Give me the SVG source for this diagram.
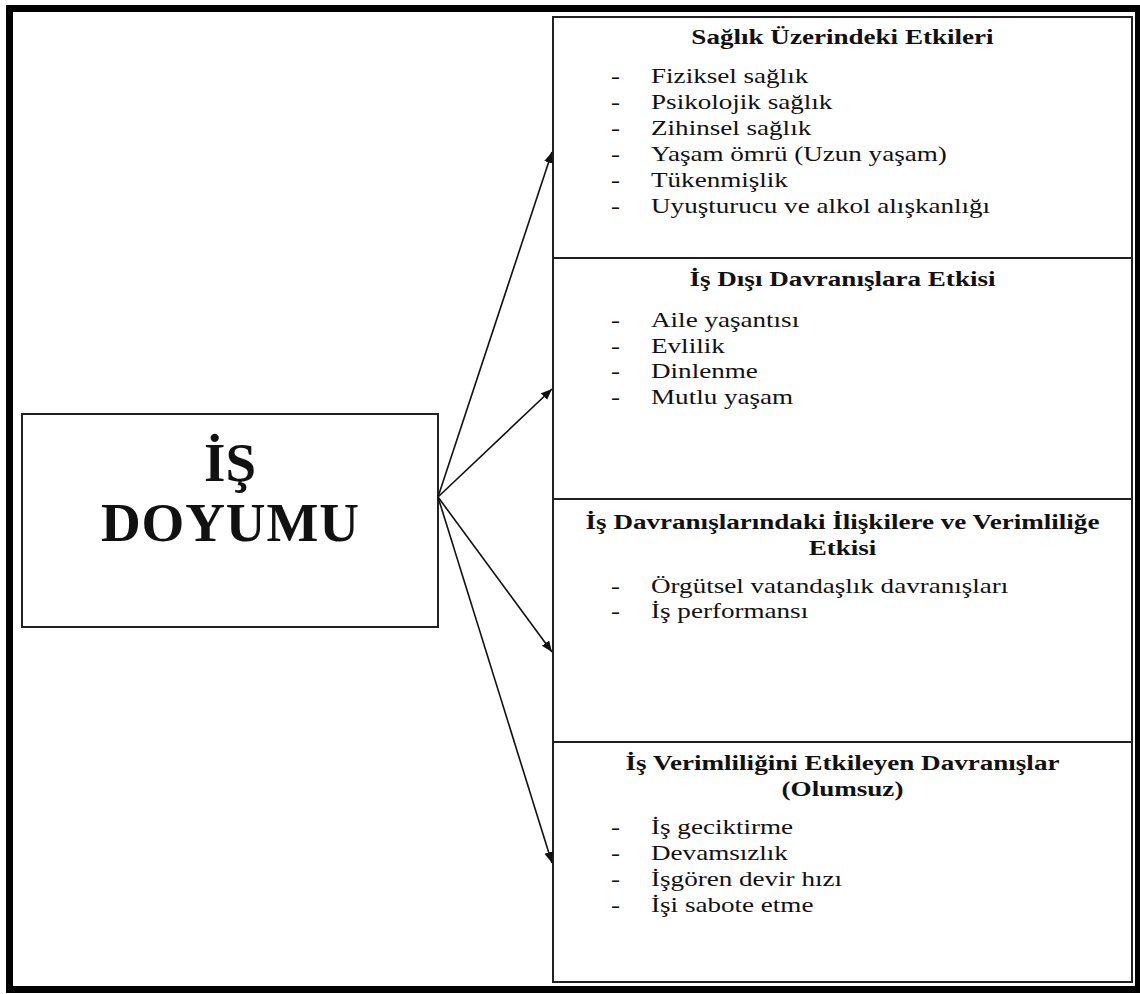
<svg xmlns="http://www.w3.org/2000/svg" width="1140" height="994" viewBox="0 0 1140 994">
<style>
.t{font-family:"Liberation Serif","Times New Roman",serif;fill:#111;}
.h{font-size:21px;font-weight:bold;text-anchor:middle;}
.i{font-size:21px;}
.big{font-size:55px;font-weight:bold;text-anchor:middle;}
.box{fill:#fff;stroke:#222;stroke-width:2;}
.con{stroke:#111;stroke-width:1.6;fill:none;}
</style>
<defs>
<marker id="ah" markerUnits="userSpaceOnUse" markerWidth="12" markerHeight="10" refX="11" refY="4.5" orient="auto">
<path d="M0,0 L11,4.5 L0,9 Z" fill="#111"/>
</marker>
</defs>
<rect x="0" y="0" width="1140" height="994" fill="#fff"/>
<rect x="9.5" y="8.5" width="1129" height="981" fill="none" stroke="#000" stroke-width="7"/>

<g id="node-is-doyumu">
<rect class="box" x="22" y="414" width="416" height="213" stroke-width="1.6"/>
<text class="t big" x="230" y="481">İŞ</text>
<text class="t big" x="230" y="541" textLength="258" lengthAdjust="spacing">DOYUMU</text>
</g>

<g id="node-saglik">
<rect class="box" x="553" y="17" width="579" height="241"/>
<g transform="scale(1.29,1)">
<text class="t h" x="653.1" y="44">Sağlık Üzerindeki Etkileri</text>
<text class="t i" x="473.6" y="83">-</text><text class="t i" x="504.7" y="83">Fiziksel sağlık</text>
<text class="t i" x="473.6" y="109">-</text><text class="t i" x="504.7" y="109">Psikolojik sağlık</text>
<text class="t i" x="473.6" y="135">-</text><text class="t i" x="504.7" y="135">Zihinsel sağlık</text>
<text class="t i" x="473.6" y="161">-</text><text class="t i" x="504.7" y="161">Yaşam ömrü (Uzun yaşam)</text>
<text class="t i" x="473.6" y="187">-</text><text class="t i" x="504.7" y="187">Tükenmişlik</text>
<text class="t i" x="473.6" y="213">-</text><text class="t i" x="504.7" y="213">Uyuşturucu ve alkol alışkanlığı</text>
</g>
</g>

<g id="node-is-disi">
<rect class="box" x="553" y="258" width="579" height="241"/>
<g transform="scale(1.29,1)">
<text class="t h" x="653.1" y="286">İş Dışı Davranışlara Etkisi</text>
<text class="t i" x="473.6" y="327">-</text><text class="t i" x="504.7" y="327">Aile yaşantısı</text>
<text class="t i" x="473.6" y="353">-</text><text class="t i" x="504.7" y="353">Evlilik</text>
<text class="t i" x="473.6" y="378">-</text><text class="t i" x="504.7" y="378">Dinlenme</text>
<text class="t i" x="473.6" y="404">-</text><text class="t i" x="504.7" y="404">Mutlu yaşam</text>
</g>
</g>

<g id="node-iliskiler">
<rect class="box" x="553" y="499" width="579" height="243"/>
<g transform="scale(1.29,1)">
<text class="t h" x="653.1" y="529">İş Davranışlarındaki İlişkilere ve Verimliliğe</text>
<text class="t h" x="653.1" y="555">Etkisi</text>
<text class="t i" x="473.6" y="593">-</text><text class="t i" x="504.7" y="593">Örgütsel vatandaşlık davranışları</text>
<text class="t i" x="473.6" y="618">-</text><text class="t i" x="504.7" y="618">İş performansı</text>
</g>
</g>

<g id="node-olumsuz">
<rect class="box" x="553" y="742" width="579" height="240"/>
<g transform="scale(1.29,1)">
<text class="t h" x="653.1" y="770">İş Verimliliğini Etkileyen Davranışlar</text>
<text class="t h" x="653.1" y="796">(Olumsuz)</text>
<text class="t i" x="473.6" y="834">-</text><text class="t i" x="504.7" y="834">İş geciktirme</text>
<text class="t i" x="473.6" y="860">-</text><text class="t i" x="504.7" y="860">Devamsızlık</text>
<text class="t i" x="473.6" y="886">-</text><text class="t i" x="504.7" y="886">İşgören devir hızı</text>
<text class="t i" x="473.6" y="912">-</text><text class="t i" x="504.7" y="912">İşi sabote etme</text>
</g>
</g>

<g id="connectors">
<line class="con" x1="438" y1="497" x2="552" y2="152" marker-end="url(#ah)"/>
<line class="con" x1="438" y1="497" x2="552" y2="389" marker-end="url(#ah)"/>
<line class="con" x1="438" y1="497" x2="552" y2="652" marker-end="url(#ah)"/>
<line class="con" x1="438" y1="497" x2="552" y2="863" marker-end="url(#ah)"/>
</g>
</svg>
